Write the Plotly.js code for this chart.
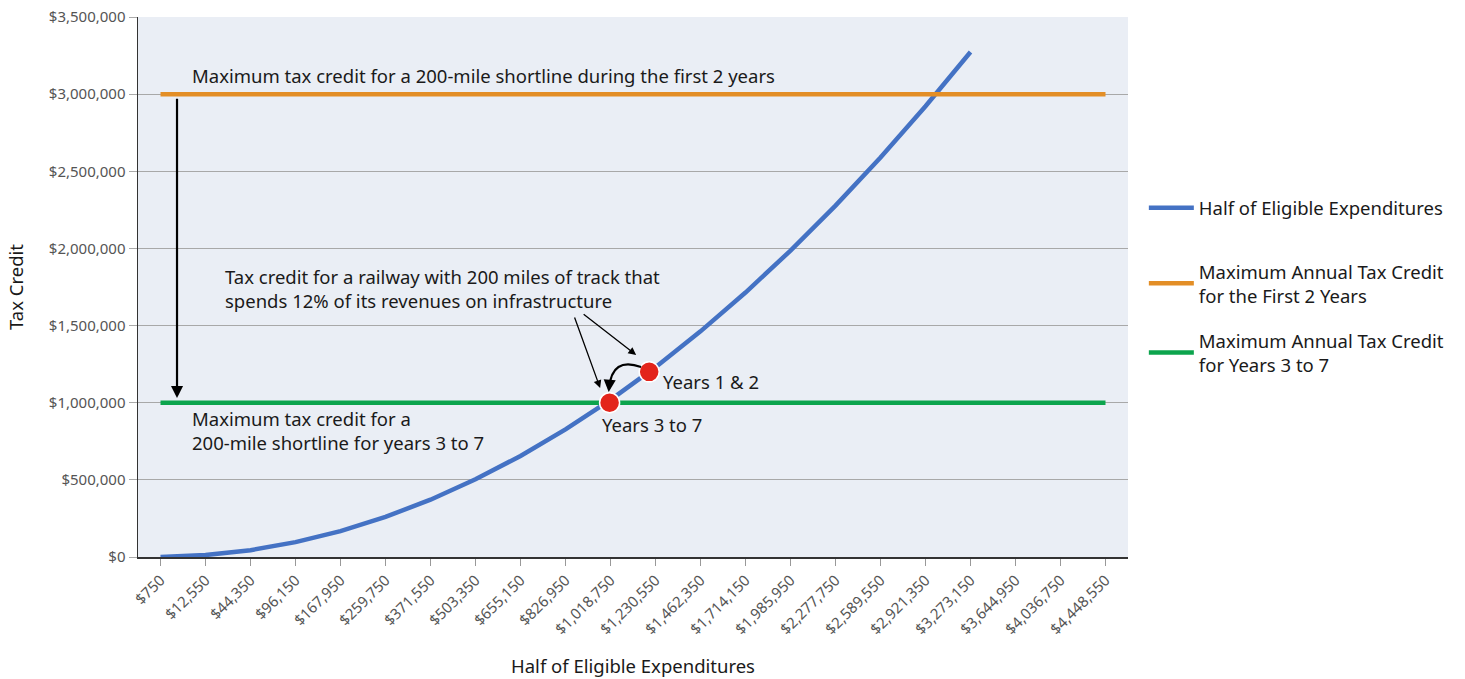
<!DOCTYPE html>
<html>
<head>
<meta charset="utf-8">
<script src="https://cdn.plot.ly/plotly-3.0.1.min.js"></script>
<style>html,body{margin:0;padding:0;background:#fff;}#chart{width:1465px;height:679px;}</style>
</head>
<body>
<div id="chart"></div>
<script>
// Category tick labels (x axis)
const xLabels = ["$750","$12,550","$44,350","$96,150","$167,950","$259,750","$371,550","$503,350","$655,150","$826,950","$1,018,750","$1,230,550","$1,462,350","$1,714,150","$1,985,950","$2,277,750","$2,589,550","$2,921,350","$3,273,150","$3,644,950","$4,036,750","$4,448,550"];
// Series values
const halfEligible = [750,12550,44350,96150,167950,259750,371550,503350,655150,826950,1018750,1230550,1462350,1714150,1985950,2277750,2589550,2921350,3273150];
const maxFirst2Years = [3000000,3000000,3000000,3000000,3000000,3000000,3000000,3000000,3000000,3000000,3000000,3000000,3000000,3000000,3000000,3000000,3000000,3000000,3000000,3000000,3000000,3000000];
const maxYears3to7 = [1000000,1000000,1000000,1000000,1000000,1000000,1000000,1000000,1000000,1000000,1000000,1000000,1000000,1000000,1000000,1000000,1000000,1000000,1000000,1000000,1000000,1000000];
// Highlighted points (x as category position, y in dollars)
const pointX = [9.98, 10.86];
const pointY = [1000000, 1200000];
// y tick labels
const yTickVals = [0,500000,1000000,1500000,2000000,2500000,3000000,3500000];
const yTickText = ["$0","$500,000","$1,000,000","$1,500,000","$2,000,000","$2,500,000","$3,000,000","$3,500,000"];

const idx = xLabels.map((_, i) => i);
const FONT = "Noto Sans, Open Sans, sans-serif";
const TXT = "#1a1a1a";
const AF = {family: FONT, size: 18.5, color: TXT};

const traces = [
  {x: idx.slice(0, halfEligible.length), y: halfEligible, mode: "lines", name: "Half of Eligible Expenditures",
   line: {color: "#4472c4", width: 4.5}, legend: "legend", hoverinfo: "y"},
  {x: idx, y: maxFirst2Years, mode: "lines", name: "Maximum Annual Tax Credit<br>for the First 2 Years",
   line: {color: "#e38e26", width: 4.5}, legend: "legend2", hoverinfo: "y"},
  {x: idx, y: maxYears3to7, mode: "lines", name: "Maximum Annual Tax Credit<br>for Years 3 to 7",
   line: {color: "#0ca44d", width: 4.5}, legend: "legend3", hoverinfo: "y"},
  {x: pointX, y: pointY, mode: "markers", showlegend: false, hoverinfo: "y",
   marker: {color: "#e3241b", size: 20, line: {color: "#ffffff", width: 1.5}}}
];

const legFont = {family: FONT, size: 18.5, color: TXT};
const legBase = {bgcolor: "rgba(0,0,0,0)", font: legFont, xanchor: "left", yanchor: "middle", itemwidth: 45};

const layout = {
  width: 1465, height: 679,
  margin: {l: 138, r: 337, t: 17, b: 122},
  paper_bgcolor: "#ffffff",
  plot_bgcolor: "#eaeef5",
  font: {family: FONT, size: 15, color: "#555555"},
  showlegend: true,
  legend:  Object.assign({x: 1.016, y: 0.646}, legBase),
  legend2: Object.assign({x: 1.016, y: 0.506}, legBase),
  legend3: Object.assign({x: 1.016, y: 0.378}, legBase),
  xaxis: {
    range: [-0.5, 21.5], tickmode: "array", tickvals: idx, ticktext: xLabels,
    tickangle: -45, ticks: "outside", ticklen: 7, tickcolor: "#999999",
    showgrid: false, zeroline: false, showline: true, linecolor: "#333333", linewidth: 1.5,
    tickfont: {family: FONT, size: 15, color: "#555555"},
    title: {text: "Half of Eligible Expenditures", font: {family: FONT, size: 18.5, color: TXT}, standoff: 22}
  },
  yaxis: {
    range: [0, 3500000], tickmode: "array", tickvals: yTickVals, ticktext: yTickText,
    ticks: "outside", ticklen: 8, tickcolor: "#aaaaaa",
    showgrid: true, gridcolor: "#a8a8a8", gridwidth: 1, zeroline: false,
    showline: true, linecolor: "#333333", linewidth: 1.5,
    tickfont: {family: FONT, size: 15, color: "#555555"},
    title: {text: "Tax Credit", font: {family: FONT, size: 18.5, color: TXT}, standoff: 20}
  },
  shapes: [
    {type: "path", xref: "x", yref: "y", path: "M 10.68,1231000 Q 10.03,1300000 9.97,1095000",
     line: {color: "#000000", width: 2.2}}
  ],
  annotations: [
    {xref: "x", yref: "y", x: 0.66, y: 3122000, xanchor: "left", yanchor: "middle", showarrow: false,
     text: "Maximum tax credit for a 200-mile shortline during the first 2 years", font: AF},
    {xref: "x", yref: "y", x: 0.66, y: 816700, xanchor: "left", yanchor: "middle", showarrow: false, align: "left",
     text: "Maximum tax credit for a<br>200-mile shortline for years 3 to 7", font: AF},
    {xref: "x", yref: "y", x: 1.39, y: 1743500, xanchor: "left", yanchor: "middle", showarrow: false, align: "left",
     text: "Tax credit for a railway with 200 miles of track that<br>spends 12% of its revenues on infrastructure", font: AF},
    {xref: "x", yref: "y", x: 11.12, y: 1140700, xanchor: "left", yanchor: "middle", showarrow: false,
     text: "Years 1 &amp; 2", font: AF},
    {xref: "x", yref: "y", x: 9.77, y: 855600, xanchor: "left", yanchor: "middle", showarrow: false,
     text: "Years 3 to 7", font: AF},
    // long vertical arrow
    {xref: "x", yref: "y", axref: "x", ayref: "y", x: 0.367, y: 1030000, ax: 0.367, ay: 2980000,
     showarrow: true, arrowhead: 2, arrowsize: 1.1, arrowwidth: 2.2, arrowcolor: "#000000", text: ""},
    // pointer arrows from annotation text
    {xref: "x", yref: "y", axref: "x", ayref: "y", x: 9.77, y: 1095000, ax: 9.19, ay: 1562000,
     showarrow: true, arrowhead: 2, arrowsize: 1.2, arrowwidth: 1.3, arrowcolor: "#000000", text: ""},
    {xref: "x", yref: "y", axref: "x", ayref: "y", x: 10.57, y: 1309000, ax: 9.37, ay: 1581000,
     showarrow: true, arrowhead: 2, arrowsize: 1.2, arrowwidth: 1.3, arrowcolor: "#000000", text: ""},
    // head of curved arrow
    {xref: "x", yref: "y", x: 9.96, y: 1070000, ax: 1, ay: -12,
     showarrow: true, arrowhead: 2, arrowsize: 1.1, arrowwidth: 2.2, arrowcolor: "#000000", text: ""}
  ]
};

Plotly.newPlot("chart", traces, layout, {displayModeBar: false, staticPlot: true});
</script>
</body>
</html>
